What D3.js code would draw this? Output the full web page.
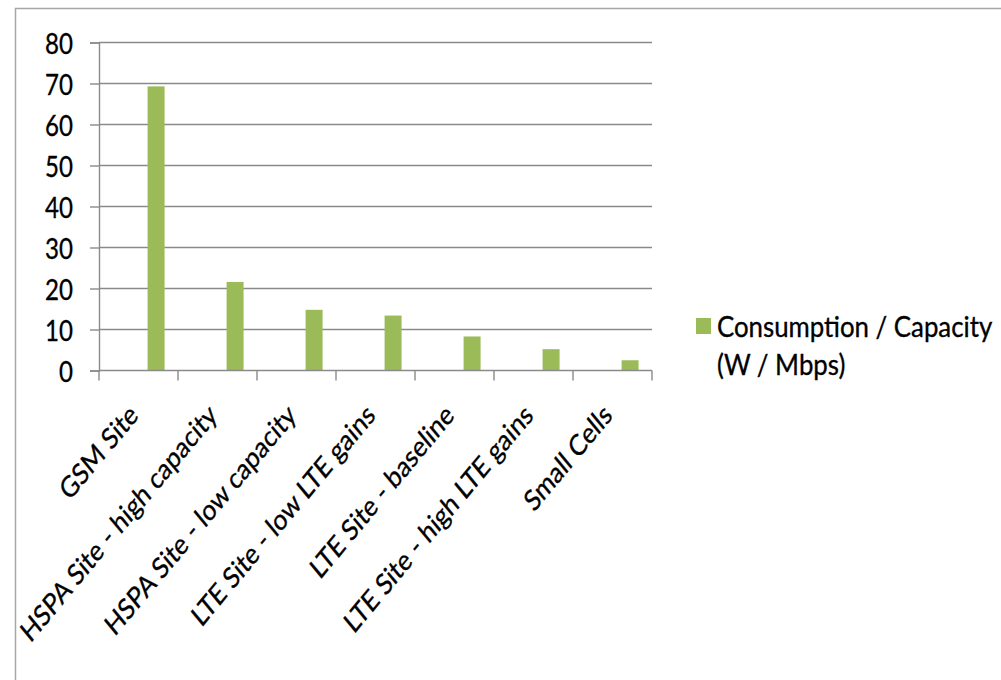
<!DOCTYPE html>
<html>
<head>
<meta charset="utf-8">
<script src="https://cdn.jsdelivr.net/npm/d3@7"></script>
<style>
  html, body { margin: 0; padding: 0; background: #fff; }
  svg { display: block; }
  text { font-family: Lato, "Open Sans", sans-serif; fill: #000; stroke: #000; stroke-width: 0.35px; }
</style>
</head>
<body>
<svg id="chart" width="1001" height="680"></svg>
<script>
// ---- data ----
const categories = [
  "GSM Site",
  "HSPA Site - high capacity",
  "HSPA Site - low capacity",
  "LTE Site - low LTE gains",
  "LTE Site - baseline",
  "LTE Site - high LTE gains",
  "Small Cells"
];
const values = [69.3, 21.6, 14.8, 13.4, 8.3, 5.2, 2.5];
const yTicks = [0, 10, 20, 30, 40, 50, 60, 70, 80];
const legendLines = ["Consumption / Capacity", "(W / Mbps)"];

// ---- layout / style ----
const barColor = "#9BBB59";
const gridColor = "#8a8a8a";
const sxNum = 0.83;       // horizontal squeeze of the digits
const sxText = 0.89;      // horizontal squeeze of words
const fontSize = 29;

const svg = d3.select("#chart");
svg.append("rect").attr("width", 1001).attr("height", 680).attr("fill", "#fff");

// outer chart border
svg.append("rect")
  .attr("x", 15.5).attr("y", 8.5).attr("width", 1100).attr("height", 800)
  .attr("fill", "none").attr("stroke", "#a6a6a6").attr("stroke-width", 1.5);

const x = d3.scaleBand().domain(categories).range([99, 652]).padding(0);
const y = d3.scaleLinear().domain([0, 80]).range([370.5, 42.5]);
const bw = x.bandwidth();

// gridlines
svg.append("g").selectAll("line")
  .data(yTicks.filter(d => d > 0))
  .join("line")
  .attr("x1", x.range()[0]).attr("x2", x.range()[1])
  .attr("y1", d => y(d)).attr("y2", d => y(d))
  .attr("stroke", gridColor).attr("stroke-width", 1.4);

// y axis
const yAxis = svg.append("g")
  .attr("transform", `translate(${x.range()[0]},0)`)
  .call(d3.axisLeft(y).tickValues(yTicks).tickSize(9).tickFormat(d3.format("d")));
yAxis.select(".domain").attr("stroke", gridColor).attr("stroke-width", 1.4);
yAxis.selectAll(".tick line").attr("stroke", gridColor).attr("stroke-width", 1.4);
yAxis.selectAll(".tick text")
  .attr("x", null).attr("dy", null)
  .attr("transform", `translate(-26,0) scale(${sxNum},1)`)
  .attr("dominant-baseline", "central")
  .attr("text-anchor", "end")
  .style("font-family", "Lato, 'Open Sans', sans-serif")
  .style("font-size", fontSize + "px")
  .attr("fill", "#000");

// bars
svg.append("g").selectAll("rect")
  .data(values)
  .join("rect")
  .attr("x", (d, i) => x(categories[i]) + bw * 0.615)
  .attr("width", bw * 0.215)
  .attr("y", d => y(d))
  .attr("height", d => y(0) - y(d))
  .attr("fill", barColor);

// x axis line + boundary ticks
const x0 = y(0);
svg.append("line")
  .attr("x1", x.range()[0]).attr("x2", x.range()[1])
  .attr("y1", x0).attr("y2", x0)
  .attr("stroke", gridColor).attr("stroke-width", 1.4);
const bounds = categories.map(c => x(c)).concat([x.range()[1]]);
svg.append("g").selectAll("line")
  .data(bounds)
  .join("line")
  .attr("x1", d => d).attr("x2", d => d)
  .attr("y1", x0).attr("y2", x0 + 10)
  .attr("stroke", gridColor).attr("stroke-width", 1.4);

// category labels (rotated)
svg.append("g").selectAll("text")
  .data(categories)
  .join("text")
  .attr("transform", d => `translate(${x(d) + bw / 2 + 1},417) scale(${sxNum},1) rotate(-45)`)
  .attr("text-anchor", "end")
  .style("font-size", fontSize + "px")
  .text(d => d);

// legend
const lg = svg.append("g");
lg.append("rect")
  .attr("x", 696).attr("y", 318).attr("width", 15).attr("height", 16)
  .attr("fill", barColor);
lg.selectAll("text")
  .data(legendLines)
  .join("text")
  .attr("transform", (d, i) => `translate(717,${337 + i * 38}) scale(${sxText},1)`)
  .style("font-size", fontSize + "px")
  .text(d => d);
</script>
</body>
</html>
